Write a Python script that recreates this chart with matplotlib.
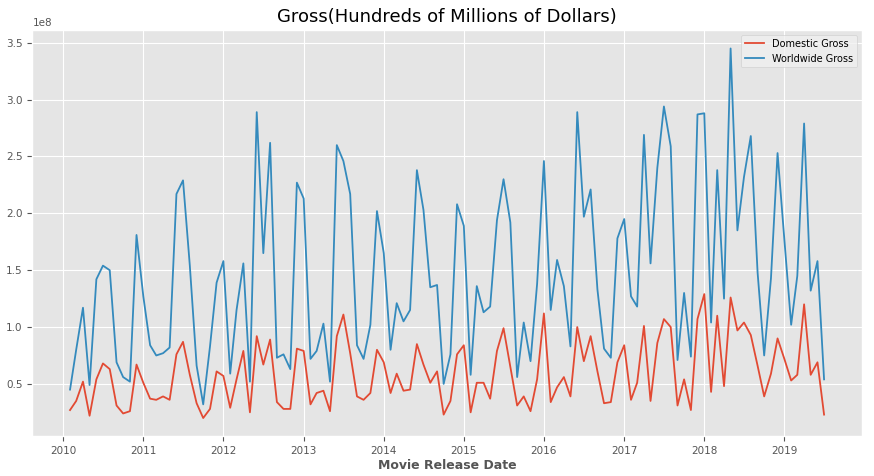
import numpy as np
import matplotlib
matplotlib.use('Agg')
import matplotlib.pyplot as plt
import pandas as pd

plt.style.use('ggplot')

dates = pd.date_range('2010-02-01', periods=114, freq='MS')

worldwide = [0.45, 0.80, 1.17, 0.49, 1.42, 1.54, 1.50, 0.69, 0.56, 0.52, 1.81,
             1.27, 0.84, 0.75, 0.77, 0.82, 2.17, 2.29, 1.54, 0.66, 0.32, 0.83, 1.39, 1.58,
             0.59, 1.15, 1.56, 0.52, 2.89, 1.65, 2.62,
             0.73, 0.76, 0.63, 2.27, 2.13, 0.72, 0.79, 1.03, 0.52, 2.60, 2.46, 2.17,
             0.84, 0.72, 1.02, 2.02, 1.65, 0.80, 1.21, 1.05, 1.15, 2.38, 2.03, 1.35,
             1.37, 0.50, 0.76, 2.08, 1.89, 0.58,
             1.36, 1.13, 1.18, 1.94, 2.30, 1.92, 0.56, 1.04, 0.70, 1.38, 2.46, 1.15,
             1.59, 1.36, 0.83, 2.89, 1.97, 2.21, 1.33, 0.81, 0.73, 1.78, 1.95, 1.27,
             1.18, 2.69, 1.56, 2.40, 2.94, 2.59,
             0.71, 1.30, 0.74, 2.87, 2.88, 1.04, 2.38, 1.25, 3.45, 1.85, 2.32, 2.68,
             1.48, 0.75, 1.43, 2.53, 1.77, 1.02, 1.45, 2.79, 1.32, 1.58, 0.54]

domestic = [0.27, 0.35, 0.52, 0.22, 0.54, 0.68, 0.63, 0.31, 0.24, 0.26, 0.67,
            0.51, 0.37, 0.36, 0.39, 0.36, 0.76, 0.87, 0.58, 0.33, 0.20, 0.28, 0.61, 0.57,
            0.29, 0.54, 0.79, 0.25, 0.92, 0.67, 0.89,
            0.34, 0.28, 0.28, 0.81, 0.79, 0.32, 0.42, 0.44, 0.26, 0.92, 1.11, 0.77,
            0.39, 0.36, 0.42, 0.80, 0.69, 0.42, 0.59, 0.44, 0.45, 0.85, 0.67, 0.51,
            0.61, 0.23, 0.35, 0.76, 0.84, 0.25,
            0.51, 0.51, 0.37, 0.79, 0.99, 0.65, 0.31, 0.39, 0.26, 0.54, 1.12, 0.34,
            0.47, 0.56, 0.39, 1.00, 0.70, 0.92, 0.61, 0.33, 0.34, 0.69, 0.84, 0.36,
            0.51, 1.01, 0.35, 0.86, 1.07, 1.00,
            0.31, 0.54, 0.27, 1.07, 1.29, 0.43, 1.10, 0.48, 1.26, 0.97, 1.04, 0.93,
            0.66, 0.39, 0.59, 0.90, 0.72, 0.53, 0.58, 1.20, 0.58, 0.69, 0.23]

worldwide = np.array(worldwide) * 1e8
domestic = np.array(domestic) * 1e8

fig, ax = plt.subplots(figsize=(8.74, 4.76), dpi=100)
fig.subplots_adjust(left=0.037, right=0.986, top=0.937, bottom=0.083)
ax.plot(dates, domestic, label='Domestic Gross', linewidth=1.3)
ax.plot(dates, worldwide, label='Worldwide Gross', linewidth=1.3)
ax.set_title('Gross(Hundreds of Millions of Dollars)', fontsize=13)
ax.set_xlabel('Movie Release Date', fontweight='bold', fontsize=9, labelpad=2)
ax.tick_params(labelsize=7.5)
ax.yaxis.get_offset_text().set_fontsize(7.5)
ax.legend(fontsize=7, facecolor='#f0f0f0')
fig.savefig('out.png')
